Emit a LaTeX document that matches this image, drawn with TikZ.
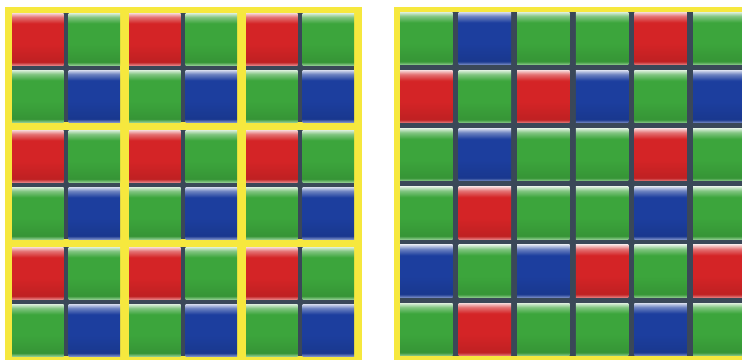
\documentclass[tikz,border=0pt]{standalone}
\usepackage{xcolor}
\usepackage{tikz}

\definecolor{pxred}{RGB}{212,36,38}
\definecolor{pxgreen}{RGB}{60,165,60}
\definecolor{pxblue}{RGB}{28,62,158}
\definecolor{gridgray}{RGB}{58,72,88}
\definecolor{sensoryellow}{RGB}{246,232,62}

% glossy look of one colour filter: light top, plain body, light lower edge
\newcommand\defpixel[2]{%
  \colorlet{#1-hi}{#2!18!white}%
  \colorlet{#1-up}{#2!65!white}%
  \colorlet{#1-mid}{#2}%
  \colorlet{#1-low}{#2!90!black}%
  \colorlet{#1-bot}{#2!60!white}%
  \pgfdeclareverticalshading{#1}{100bp}{color(0bp)=(#1-bot); color(25bp)=(#1-bot);
    color(28bp)=(#1-low); color(45bp)=(#1-mid); color(65bp)=(#1-mid);
    color(71bp)=(#1-up); color(75bp)=(#1-hi); color(100bp)=(#1-hi)}}
\defpixel{pxR}{pxred}
\defpixel{pxG}{pxgreen}
\defpixel{pxB}{pxblue}

\begin{document}
\begin{tikzpicture}[x=1pt, y=-1pt,
  pix/.style={rectangle, inner sep=0pt, outer sep=0pt, anchor=north west, minimum width=51.5pt, minimum height=52pt},
  xpix/.style={pix, minimum width=52.5pt, minimum height=52.5pt},
  pixr/.style={shading=pxR},
  pixg/.style={shading=pxG},
  pixb/.style={shading=pxB},
  frame/.style={fill=sensoryellow},
  gridline/.style={fill=gridgray}
]
\useasboundingbox (0,0) rectangle (742,360);
\clip (0,0) rectangle (742,360);

% Bayer mosaic, 2x2 blocks in a yellow grid
\fill[frame] (5,7) rectangle (362,360);
\foreach \i in {0,1,2}
  \foreach \j in {0,1,2} {
    \pgfmathsetmacro\bx{12+117*\i}
    \pgfmathsetmacro\by{13+117*\j}
    \fill[gridline] (\bx,\by) rectangle ++(108,109);
    \node[pix, pixr] (bay-\j-\i-r) at (\bx,\by) {};
    \node[pix, pixg] (bay-\j-\i-g1) at (\bx+56.5,\by) {};
    \node[pix, pixg] (bay-\j-\i-g2) at (\bx,\by+57) {};
    \node[pix, pixb] (bay-\j-\i-b) at (\bx+56.5,\by+57) {};
  }

% X-Trans mosaic, 6x6
\fill[frame] (394,7) rectangle (750,360);
\fill[gridline] (400,12) rectangle (750,356);
\foreach \row [count=\r from 0] in {{g,b,g,g,r,g},{r,g,r,b,g,b},{g,b,g,g,r,g},{g,r,g,g,b,g},{b,g,b,r,g,r},{g,r,g,g,b,g}}
  \foreach \col [count=\k from 0] in \row
    \node[xpix, pix\col] (xt-\r-\k) at (400+58.6*\k, 12+58.2*\r) {};

\end{tikzpicture}
\end{document}
